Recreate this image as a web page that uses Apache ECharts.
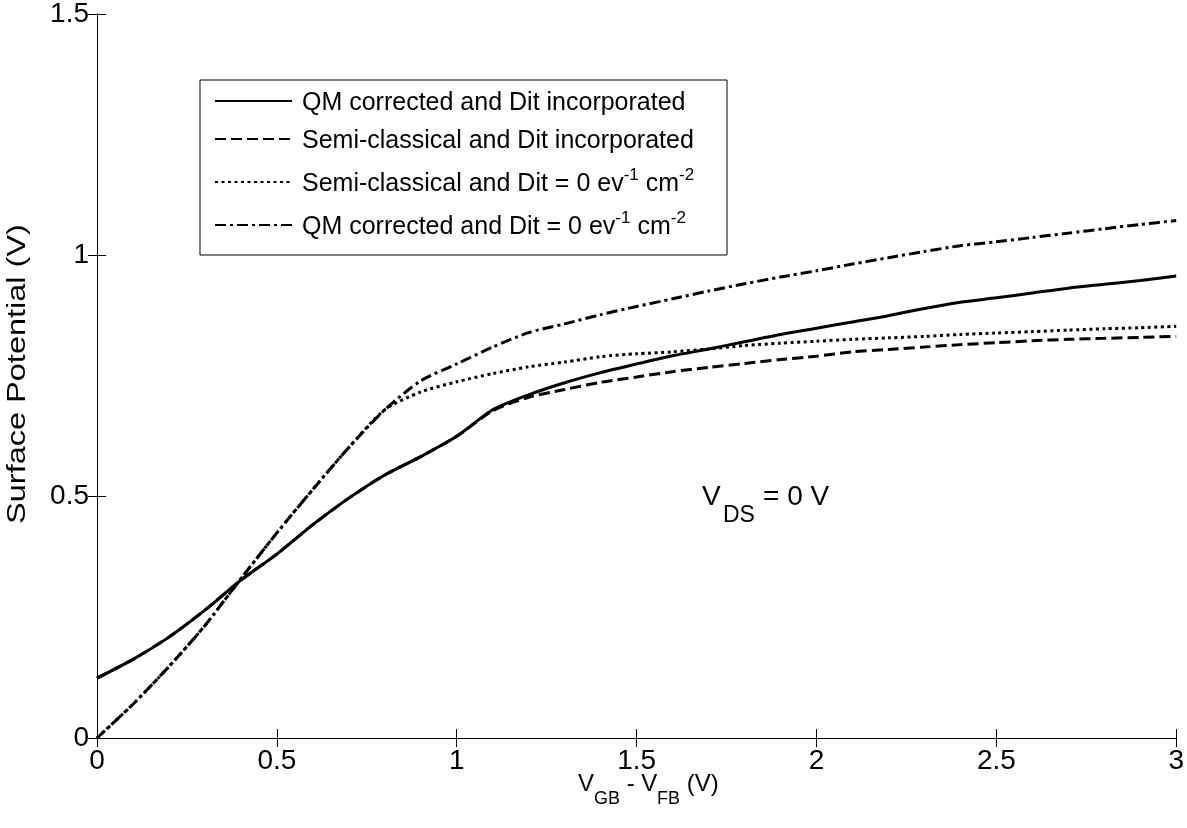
<!DOCTYPE html>
<html>
<head>
<meta charset="utf-8">
<script src="https://cdn.jsdelivr.net/npm/echarts@6/dist/echarts.min.js"></script>
<style>html,body{margin:0;padding:0;background:#fff;}#c{width:1187px;height:828px;}</style>
</head>
<body>
<div id="c"></div>
<script>
// ---- data ----
const xValues = [0,0.1,0.2,0.3,0.4,0.5,0.6,0.7,0.8,0.9,1.0,1.1,1.2,1.3,1.4,1.5,1.6,1.7,1.8,1.9,2.0,2.1,2.2,2.3,2.4,2.5,2.6,2.7,2.8,2.9,3.0];
const qmDit = [0.124,0.163,0.209,0.265,0.327,0.381,0.442,0.497,0.545,0.583,0.625,0.680,0.711,0.736,0.757,0.775,0.792,0.806,0.821,0.836,0.849,0.862,0.875,0.890,0.903,0.912,0.922,0.932,0.940,0.948,0.957];
const semiDit = [0.124,0.163,0.209,0.265,0.327,0.381,0.442,0.497,0.545,0.583,0.625,0.678,0.706,0.722,0.737,0.748,0.759,0.768,0.776,0.784,0.791,0.800,0.805,0.810,0.815,0.819,0.823,0.826,0.828,0.830,0.832];
const semiNoDit = [0,0.070,0.148,0.233,0.330,0.425,0.515,0.602,0.680,0.717,0.738,0.755,0.769,0.779,0.790,0.796,0.800,0.806,0.813,0.818,0.822,0.826,0.829,0.832,0.836,0.839,0.842,0.845,0.848,0.850,0.853];
const qmNoDit = [0,0.070,0.148,0.233,0.330,0.425,0.515,0.602,0.680,0.740,0.775,0.810,0.840,0.858,0.877,0.894,0.910,0.926,0.941,0.955,0.968,0.982,0.995,1.008,1.020,1.028,1.037,1.046,1.055,1.064,1.072];
const seriesNames = [
  'QM corrected and Dit incorporated',
  'Semi-classical and Dit incorporated',
  'Semi-classical and Dit = 0 ev-1 cm-2',
  'QM corrected and Dit = 0 ev-1 cm-2'
];
const xTicks = [0, 3, 0.5];   // min, max, interval
const yTicks = [0, 1.5, 0.5];

// ---- chart ----
const FONT = 'Liberation Sans, Arial, Helvetica, sans-serif';
const zip = (ys) => xValues.map((x, i) => [x, ys[i]]);
const styles = ['solid', [11, 5], [3, 3.5], [11, 4, 3, 4]];
const datasets = [qmDit, semiDit, semiNoDit, qmNoDit];

function txt(str, x, y, size) {
  return { type: 'text', x: x, y: y, z: 10, silent: true,
    style: { text: str, fontFamily: FONT, fontSize: size, fill: '#000',
             textVerticalAlign: 'middle', verticalAlign: 'middle', align: 'left' } };
}

const chart = echarts.init(document.getElementById('c'));
const axisCommon = {
  type: 'value',
  axisLine: { show: true, lineStyle: { color: '#000', width: 1 } },
  axisTick: { show: true, inside: true, length: 9, lineStyle: { color: '#000', width: 1 } },
  splitLine: { show: false }
};
chart.setOption({
  animation: false,
  backgroundColor: '#fff',
  textStyle: { fontFamily: FONT },
  grid: { left: 97, right: 9, top: 10, bottom: 90, containLabel: false },
  xAxis: [
    Object.assign({}, axisCommon, {
      min: xTicks[0], max: xTicks[1], interval: xTicks[2], position: 'bottom',
      axisLabel: { show: true, color: '#000', fontSize: 28, fontFamily: FONT, margin: 9 }
    }),
    Object.assign({}, axisCommon, {
      min: xTicks[0], max: xTicks[1], interval: xTicks[2], position: 'top',
      axisLabel: { show: false }
    })
  ],
  yAxis: [
    Object.assign({}, axisCommon, {
      min: yTicks[0], max: yTicks[1], interval: yTicks[2], position: 'left',
      axisLabel: { show: true, color: '#000', fontSize: 28, fontFamily: FONT, margin: 8 }
    }),
    Object.assign({}, axisCommon, {
      min: yTicks[0], max: yTicks[1], interval: yTicks[2], position: 'right',
      axisLabel: { show: false }
    })
  ],
  legend: {
    orient: 'vertical', left: 209, top: 86,
    itemWidth: 77, itemHeight: 14, itemGap: 13,
    itemStyle: { opacity: 0 },
    data: seriesNames,
    formatter: function (name) {
      return name.replace('ev-1 cm-2', 'ev{sup|-1} cm{sup|-2}').replace(/^([^{]*)/, '{b|$1}')
        .replace('ev{sup', '{b|ev}{sup').replace('} cm{sup', '}{b| cm}{sup');
    },
    textStyle: {
      color: '#000', fontFamily: FONT, fontSize: 25, padding: [0, 0, 0, 5],
      rich: {
        b: { fontSize: 25, fontFamily: FONT, color: '#000', lineHeight: 30, verticalAlign: 'bottom' },
        sup: { fontSize: 17, fontFamily: FONT, color: '#000', lineHeight: 18, verticalAlign: 'top' }
      }
    }
  },
  graphic: [
    { type: 'rect', z: -1, shape: { x: 200, y: 80, width: 527, height: 175 },
      style: { fill: '#fff', stroke: '#000', lineWidth: 1 } },
    // y axis title (rotated, letters spread as in the reference)
    { type: 'text', x: 18, y: 374, rotation: Math.PI / 2, scaleX: 1.3, scaleY: 1, z: 10, silent: true,
      style: { text: 'Surface Potential (V)', fontFamily: FONT, fontSize: 25, fill: '#000',
               align: 'center', verticalAlign: 'middle' } },
    // V_DS = 0 V annotation
    txt('V', 702, 497, 28),
    txt('DS', 723, 516, 23),
    txt('= 0 V', 763, 497, 28),
    // x axis title: V_GB - V_FB (V)
    txt('V', 578, 784, 24),
    txt('GB', 594, 799, 18),
    txt(' - V', 620, 784, 24),
    txt('FB', 657, 799, 18),
    txt(' (V)', 680, 784, 24)
  ],
  series: datasets.map((d, i) => ({
    name: seriesNames[i],
    type: 'line',
    data: zip(d),
    xAxisIndex: 0, yAxisIndex: 0,
    symbol: 'none', showSymbol: false,
    smooth: 0.25,
    lineStyle: { color: '#000', width: 3, type: styles[i] },
    itemStyle: { color: '#000' },
    z: 4 - i
  }))
});
</script>
</body>
</html>
